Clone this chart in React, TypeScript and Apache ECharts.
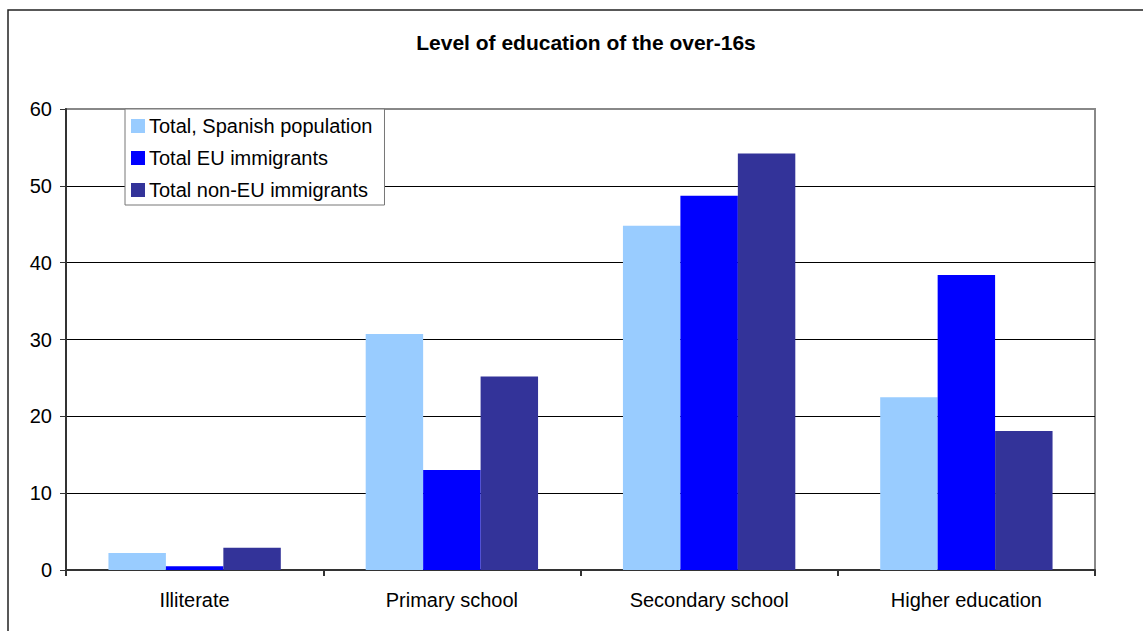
import React, { useEffect, useRef } from "react";
import * as echarts from "echarts";

const categories = ["Illiterate", "Primary school", "Secondary school", "Higher education"];
const spanish = [2.2, 30.7, 44.8, 22.5];
const euImmigrants = [0.5, 13.0, 48.7, 38.4];
const nonEuImmigrants = [2.9, 25.2, 54.2, 18.1];
const seriesNames = ["Total, Spanish population", "Total EU immigrants", "Total non-EU immigrants"];
const colors = ["#99CCFF", "#0000FF", "#333399"];

export default function App() {
  const ref = useRef<HTMLDivElement>(null);
  useEffect(() => {
    if (!ref.current) return;
    const chart = echarts.init(ref.current, null, { renderer: "svg" });
    const font = "'Liberation Sans', Arial, sans-serif";
    const data = [spanish, euImmigrants, nonEuImmigrants];
    chart.setOption({
      animation: false,
      backgroundColor: "#fff",
      title: {
        text: "Level of education of the over-16s",
        left: 581,
        textAlign: "center",
        top: 27,
        textStyle: { fontFamily: font, fontSize: 21, fontWeight: "bold", color: "#000" },
      },
      graphic: [
        {
          type: "rect",
          shape: { x: 8, y: 10, width: 1200, height: 700 },
          style: { fill: "none", stroke: "#222", lineWidth: 1.5 },
          silent: true,
        },
      ],
      legend: {
        orient: "vertical",
        left: 125,
        top: 109,
        backgroundColor: "#fff",
        borderColor: "#777",
        borderWidth: 1,
        padding: [7, 12, 5, 6],
        itemGap: 12,
        itemWidth: 14,
        itemHeight: 14,
        icon: "rect",
        z: 10,
        textStyle: { fontFamily: font, fontSize: 20, lineHeight: 20, color: "#000", padding: [0, 0, 0, -1] },
        data: seriesNames,
      },
      grid: {
        left: 66,
        right: 48,
        top: 109,
        bottom: 61,
        show: true,
        borderColor: "#888",
        borderWidth: 2,
        backgroundColor: "transparent",
      },
      xAxis: {
        type: "category",
        data: categories,
        axisLine: { lineStyle: { color: "#333", width: 2 } },
        axisTick: { show: true, length: 6, lineStyle: { color: "#333", width: 2 } },
        axisLabel: { fontFamily: font, fontSize: 20, color: "#000", margin: 20 },
      },
      yAxis: {
        type: "value",
        min: 0,
        max: 60,
        interval: 10,
        axisLine: { show: true, lineStyle: { color: "#333", width: 2 } },
        axisTick: { show: true, length: 6, lineStyle: { color: "#333", width: 1 } },
        axisLabel: { fontFamily: font, fontSize: 20, color: "#000", margin: 14 },
        splitLine: { show: true, showMaxLine: false, showMinLine: false, lineStyle: { color: "#000", width: 1 } },
      },
      series: seriesNames.map((name, i) => ({
        name,
        type: "bar",
        data: data[i],
        barGap: "0%",
        barCategoryGap: "33%",
        itemStyle: { color: colors[i] },
      })),
    });
    return () => chart.dispose();
  }, []);
  return (
    <div
      ref={ref}
      style={{ position: "fixed", left: 0, top: 0, width: 1143, height: 631 }}
    />
  );
}
